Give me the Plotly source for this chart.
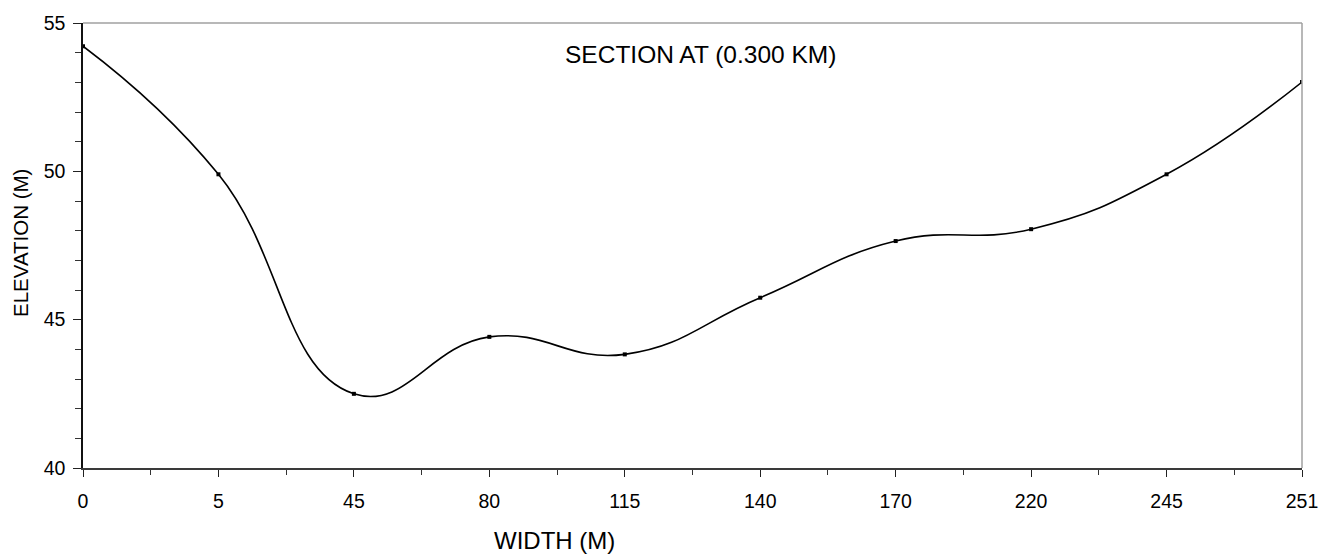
import plotly.graph_objects as go

width_labels = ["0", "5", "45", "80", "115", "140", "170", "220", "245", "251"]
elevation = [54.22, 49.90, 42.50, 44.42, 43.83, 45.74, 47.65, 48.05, 49.90, 53.01]
y_ticks = [40, 45, 50, 55]

FONT = "Liberation Sans, Arial, sans-serif"
L, R, T, B = 83, 34, 21, 90
W, H = 1336, 558
pw = W - L - R
ph = H - T - B

xpos = list(range(len(width_labels)))

fig = go.Figure()
fig.add_trace(go.Scatter(
    x=xpos, y=elevation, mode="lines+markers",
    line=dict(color="black", width=1.6, shape="spline", smoothing=1.3),
    marker=dict(symbol="square", size=4, color="black"),
    hoverinfo="x+y", showlegend=False,
))

fig.update_layout(
    width=W, height=H,
    margin=dict(l=L, r=R, t=T, b=B, pad=0),
    paper_bgcolor="white", plot_bgcolor="white",
    font=dict(family=FONT, color="black", size=19),
    xaxis=dict(
        range=[0, len(width_labels) - 1], tickmode="array",
        tickvals=xpos, ticktext=width_labels,
        showgrid=False, zeroline=False,
        showline=True, linecolor="#3a3a3a", linewidth=1.5,
        ticks="outside", ticklen=7, tickwidth=1, tickcolor="#222",
        ticklabelstandoff=8,
        tickfont=dict(size=19.5, family=FONT, color="black"),
        minor=dict(dtick=0.5, tick0=0, ticks="outside", ticklen=5, tickcolor="#333", showgrid=False),
        fixedrange=True,
    ),
    yaxis=dict(
        range=[40, 55], tickmode="array", tickvals=y_ticks,
        showgrid=False, zeroline=False,
        showline=True, linecolor="#111", linewidth=1.5,
        ticks="outside", ticklen=8, tickwidth=1, tickcolor="#222",
        ticklabelstandoff=4,
        tickfont=dict(size=19.5, family=FONT, color="black"),
        minor=dict(dtick=1, tick0=40, ticks="outside", ticklen=6, tickcolor="#333", showgrid=False),
        fixedrange=True,
    ),
    shapes=[
        dict(type="line", xref="paper", yref="paper", x0=0, x1=1, y0=1, y1=1,
             line=dict(color="#a0a0a0", width=1.5)),
        dict(type="line", xref="paper", yref="paper", x0=1, x1=1, y0=0, y1=1,
             line=dict(color="#a0a0a0", width=1.5)),
    ],
    annotations=[
        dict(text="SECTION AT (0.300 KM)", xref="paper", yref="paper",
             x=(700 - L) / pw, y=(H - B - 53) / ph, xanchor="center", yanchor="middle",
             showarrow=False, font=dict(size=24.5, family=FONT, color="black")),
        dict(text="WIDTH (M)", xref="paper", yref="paper",
             x=(554 - L) / pw, y=-(541 - (H - B)) / ph, xanchor="center", yanchor="middle",
             showarrow=False, font=dict(size=24, family=FONT, color="black")),
        dict(text="ELEVATION (M)", xref="paper", yref="paper",
             x=(20 - L) / pw, y=(H - B - 242) / ph, xanchor="center", yanchor="middle",
             textangle=-90, showarrow=False, font=dict(size=20.5, family=FONT, color="black")),
    ],
)

fig.write_html("out.html")
